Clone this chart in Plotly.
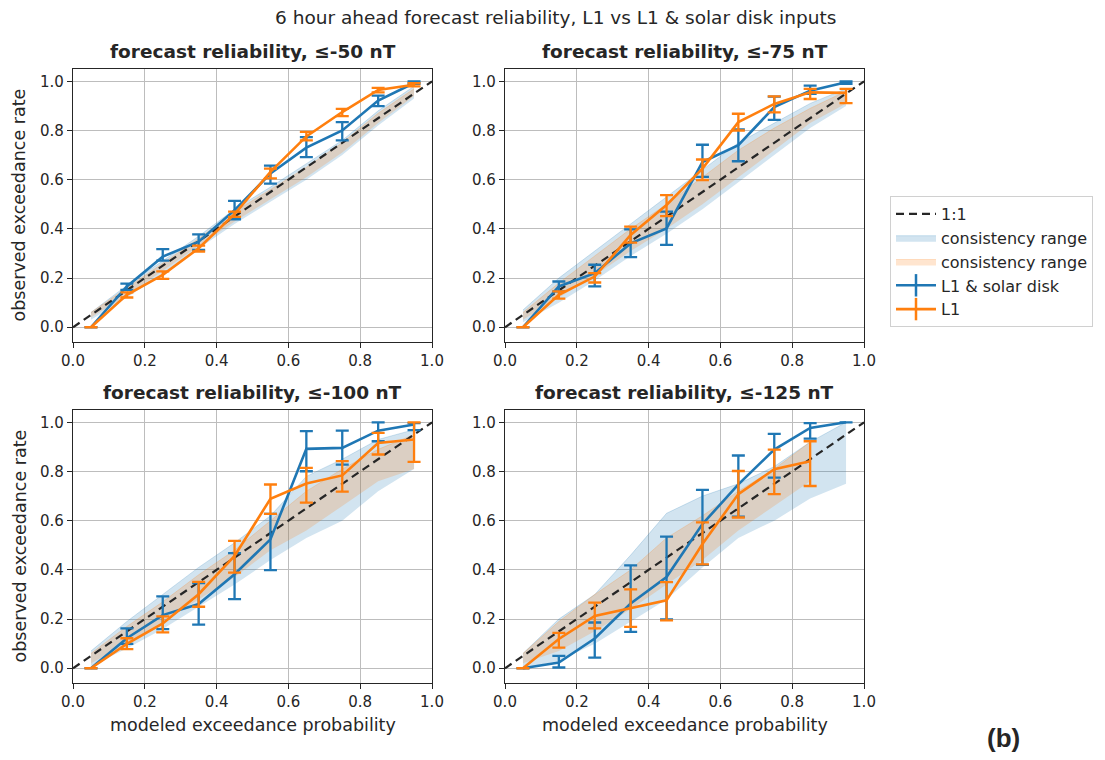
import plotly.graph_objects as go

# ---------------- data ----------------
bins = [0.05, 0.15, 0.25, 0.35, 0.45, 0.55, 0.65, 0.75, 0.85, 0.95]
titles = ["forecast reliability, ≤-50 nT", "forecast reliability, ≤-75 nT",
          "forecast reliability, ≤-100 nT", "forecast reliability, ≤-125 nT"]

# L1 & solar disk (blue)
sd_y1 = [0.0, 0.166, 0.287, 0.348, 0.476, 0.625, 0.730, 0.800, 0.922, 0.993]
sd_hi1 = [0.0, 0.177, 0.318, 0.378, 0.514, 0.657, 0.773, 0.834, 0.942, 1.0]
sd_lo1 = [0.0, 0.152, 0.271, 0.314, 0.439, 0.584, 0.692, 0.760, 0.899, 0.99]
sd_y2 = [0.0, 0.166, 0.220, 0.341, 0.402, 0.672, 0.740, 0.895, 0.962, 0.996]
sd_hi2 = [0.0, 0.186, 0.254, 0.398, 0.470, 0.742, 0.804, 0.938, 0.982, 1.0]
sd_lo2 = [0.0, 0.146, 0.166, 0.285, 0.335, 0.611, 0.675, 0.843, 0.949, 0.99]
sd_y3 = [0.0, 0.122, 0.216, 0.261, 0.382, 0.524, 0.892, 0.896, 0.966, 0.991]
sd_hi3 = [0.0, 0.162, 0.292, 0.346, 0.468, 0.628, 0.964, 0.966, 1.0, 0.997]
sd_lo3 = [0.0, 0.099, 0.159, 0.177, 0.281, 0.399, 0.801, 0.828, 0.923, 0.968]
sd_y4 = [0.0, 0.023, 0.121, 0.263, 0.371, 0.586, 0.748, 0.889, 0.977, 1.0]
sd_hi4 = [0.0, 0.050, 0.186, 0.418, 0.535, 0.725, 0.865, 0.953, 0.997, 1.0]
sd_lo4 = [0.0, 0.003, 0.043, 0.148, 0.199, 0.420, 0.616, 0.775, 0.934, 1.0]

# L1 (orange)
l1_y1 = [0.0, 0.132, 0.213, 0.321, 0.460, 0.632, 0.776, 0.875, 0.965, 0.986]
l1_hi1 = [0.0, 0.142, 0.227, 0.332, 0.470, 0.645, 0.794, 0.888, 0.973, 0.992]
l1_lo1 = [0.0, 0.121, 0.197, 0.308, 0.449, 0.605, 0.760, 0.858, 0.955, 0.979]
l1_y2 = [0.0, 0.132, 0.206, 0.375, 0.497, 0.645, 0.834, 0.908, 0.955, 0.953]
l1_hi2 = [0.0, 0.146, 0.220, 0.409, 0.537, 0.682, 0.868, 0.939, 0.969, 0.969]
l1_lo2 = [0.0, 0.116, 0.182, 0.344, 0.452, 0.598, 0.800, 0.874, 0.928, 0.911]
l1_y3 = [0.0, 0.099, 0.182, 0.301, 0.457, 0.689, 0.751, 0.784, 0.916, 0.930]
l1_hi3 = [0.0, 0.122, 0.211, 0.351, 0.518, 0.747, 0.815, 0.842, 0.957, 1.0]
l1_lo3 = [0.0, 0.078, 0.146, 0.250, 0.389, 0.628, 0.673, 0.718, 0.869, 0.839]
l1_y4 = [0.0, 0.119, 0.213, 0.245, 0.276, 0.505, 0.708, 0.809, 0.842]
l1_hi4 = [0.0, 0.144, 0.267, 0.321, 0.350, 0.593, 0.802, 0.889, 0.923]
l1_lo4 = [0.0, 0.084, 0.162, 0.168, 0.195, 0.422, 0.613, 0.708, 0.741]

# consistency ranges
sdb_lo1 = [0.03, 0.12, 0.22, 0.32, 0.42, 0.51, 0.60, 0.70, 0.82, 0.93]
sdb_hi1 = [0.06, 0.17, 0.27, 0.37, 0.48, 0.57, 0.665, 0.76, 0.88, 0.98]
l1b_lo1 = [0.04, 0.13, 0.23, 0.33, 0.43, 0.52, 0.61, 0.71, 0.83, 0.94]
l1b_hi1 = [0.06, 0.16, 0.26, 0.36, 0.47, 0.56, 0.65, 0.75, 0.87, 0.97]
sdb_lo2 = [0.02, 0.10, 0.19, 0.29, 0.38, 0.48, 0.59, 0.70, 0.81, 0.90]
sdb_hi2 = [0.07, 0.20, 0.31, 0.42, 0.53, 0.64, 0.75, 0.83, 0.91, 0.97]
l1b_lo2 = [0.03, 0.12, 0.21, 0.31, 0.40, 0.50, 0.61, 0.72, 0.83, 0.91]
l1b_hi2 = [0.06, 0.18, 0.29, 0.40, 0.50, 0.61, 0.72, 0.81, 0.89, 0.96]
sdb_lo3 = [0.01, 0.08, 0.16, 0.25, 0.34, 0.44, 0.53, 0.60, 0.72, 0.81]
sdb_hi3 = [0.07, 0.19, 0.30, 0.41, 0.51, 0.62, 0.78, 0.85, 0.93, 0.97]
l1b_lo3 = [0.02, 0.10, 0.19, 0.28, 0.37, 0.48, 0.56, 0.66, 0.76, 0.81]
l1b_hi3 = [0.06, 0.17, 0.27, 0.38, 0.48, 0.60, 0.72, 0.81, 0.89, 0.95]
sdb_lo4 = [0.00, 0.03, 0.10, 0.19, 0.28, 0.41, 0.53, 0.60, 0.69, 0.75]
sdb_hi4 = [0.06, 0.20, 0.30, 0.46, 0.63, 0.70, 0.75, 0.82, 0.92, 1.00]
l1b_lo4 = [0.02, 0.07, 0.15, 0.24, 0.34, 0.44, 0.56, 0.66, 0.76]
l1b_hi4 = [0.06, 0.19, 0.30, 0.40, 0.53, 0.62, 0.72, 0.81, 0.92]

ticks = [0.0, 0.2, 0.4, 0.6, 0.8, 1.0]
tick_text = ["0.0", "0.2", "0.4", "0.6", "0.8", "1.0"]

# ---------------- figure ----------------
W, H = 1105, 760
BLUE = "#1f77b4"
ORANGE = "#ff7f0e"
DARK = "#262626"
FONT = "DejaVu Sans"

panels = [
    (sd_y1, sd_hi1, sd_lo1, l1_y1, l1_hi1, l1_lo1, sdb_lo1, sdb_hi1, l1b_lo1, l1b_hi1),
    (sd_y2, sd_hi2, sd_lo2, l1_y2, l1_hi2, l1_lo2, sdb_lo2, sdb_hi2, l1b_lo2, l1b_hi2),
    (sd_y3, sd_hi3, sd_lo3, l1_y3, l1_hi3, l1_lo3, sdb_lo3, sdb_hi3, l1b_lo3, l1b_hi3),
    (sd_y4, sd_hi4, sd_lo4, l1_y4, l1_hi4, l1_lo4, sdb_lo4, sdb_hi4, l1b_lo4, l1b_hi4),
]

# pixel boxes of axes (left, right, top, bottom)
boxes = [(73, 432, 69, 342), (505, 864, 69, 342),
         (73, 432, 410, 683), (505, 864, 410, 683)]

fig = go.Figure()
layout = dict(
    width=W, height=H, margin=dict(l=0, r=0, t=0, b=0, autoexpand=False),
    paper_bgcolor="white", plot_bgcolor="white",
    font=dict(family=FONT, size=15, color=DARK),
    showlegend=True,
)

annotations = []
for i, (p, box) in enumerate(zip(panels, boxes)):
    sy, shi, slo, ly, lhi, llo, sblo, sbhi, lblo, lbhi = p
    k = "" if i == 0 else str(i + 1)
    xa, ya = "x" + k, "y" + k
    nb = len(sblo)
    nl = len(lblo)
    # blue band
    fig.add_trace(go.Scatter(x=bins[:nb], y=sblo, xaxis=xa, yaxis=ya, mode="lines",
                             line=dict(width=0, color=BLUE), showlegend=False, hoverinfo="skip"))
    fig.add_trace(go.Scatter(x=bins[:nb], y=sbhi, xaxis=xa, yaxis=ya, mode="lines",
                             line=dict(width=0.8, color="rgba(31,119,180,0.25)"), fill="tonexty",
                             fillcolor="rgba(31,119,180,0.2)", name="consistency range",
                             showlegend=(i == 0), legendrank=2))
    # orange band
    fig.add_trace(go.Scatter(x=bins[:nl], y=lblo, xaxis=xa, yaxis=ya, mode="lines",
                             line=dict(width=0, color=ORANGE), showlegend=False, hoverinfo="skip"))
    fig.add_trace(go.Scatter(x=bins[:nl], y=lbhi, xaxis=xa, yaxis=ya, mode="lines",
                             line=dict(width=0.8, color="rgba(255,127,14,0.25)"), fill="tonexty",
                             fillcolor="rgba(255,127,14,0.2)", name="consistency range",
                             showlegend=(i == 0), legendrank=3))
    # 1:1 line
    fig.add_trace(go.Scatter(x=[0, 1], y=[0, 1], xaxis=xa, yaxis=ya, mode="lines",
                             line=dict(color=DARK, width=2.2, dash="8px,5px"), name="1:1",
                             showlegend=(i == 0), legendrank=1))
    # blue errorbar line
    n = len(sy)
    fig.add_trace(go.Scatter(x=bins[:n], y=sy, xaxis=xa, yaxis=ya, mode="lines",
                             line=dict(color=BLUE, width=2.6),
                             error_y=dict(type="data", symmetric=False,
                                          array=[h - v for h, v in zip(shi, sy)],
                                          arrayminus=[v - l for v, l in zip(sy, slo)],
                                          color=BLUE, thickness=2.3, width=6.5),
                             name="L1 & solar disk", showlegend=False))
    n = len(ly)
    fig.add_trace(go.Scatter(x=bins[:n], y=ly, xaxis=xa, yaxis=ya, mode="lines",
                             line=dict(color=ORANGE, width=2.6),
                             error_y=dict(type="data", symmetric=False,
                                          array=[h - v for h, v in zip(lhi, ly)],
                                          arrayminus=[v - l for v, l in zip(ly, llo)],
                                          color=ORANGE, thickness=2.3, width=6.5),
                             name="L1", showlegend=False))

    l, r, t, b = box
    axcommon = dict(showgrid=True, gridcolor="#bdbdbd", gridwidth=1.2, zeroline=False,
                    showline=True, linecolor=DARK, linewidth=1.2, mirror=True,
                    ticks="outside", ticklen=5, tickwidth=1.2, tickcolor=DARK,
                    tickvals=ticks, ticktext=tick_text, automargin=False,
                    tickfont=dict(family=FONT, size=15, color=DARK))
    layout["xaxis" + k] = dict(axcommon, domain=[l / W, r / W], range=[0, 1],
                               anchor=ya)
    layout["yaxis" + k] = dict(axcommon, domain=[1 - b / H, 1 - t / H], range=[-0.06, 1.05],
                               anchor=xa)
    annotations.append(dict(text="<b>" + titles[i] + "</b>", x=(l + r) / 2 / W, y=1 - (t - 5) / H,
                            xref="paper", yref="paper", xanchor="center", yanchor="bottom",
                            showarrow=False, font=dict(family=FONT, size=18.5, color=DARK)))
    if i >= 2:
        annotations.append(dict(text="modeled exceedance probability", x=(l + r) / 2 / W,
                                y=1 - 737 / H, xref="paper", yref="paper", xanchor="center",
                                yanchor="bottom", showarrow=False,
                                font=dict(family=FONT, size=17.5, color=DARK)))
    if i % 2 == 0:
        annotations.append(dict(text="observed exceedance rate", x=7 / W, y=1 - (t + b) / 2 / H,
                                xref="paper", yref="paper", xanchor="left", yanchor="middle",
                                textangle=-90, showarrow=False,
                                font=dict(family=FONT, size=17.5, color=DARK)))

# legend-only entries for error-bar series (line with vertical bar)
fig.add_trace(go.Scatter(x=[None], y=[None], mode="lines+markers", name="L1 & solar disk",
                         line=dict(color=BLUE, width=2.6),
                         marker=dict(symbol="line-ns-open", size=16, line=dict(color=BLUE, width=2.5)),
                         legendrank=4))
fig.add_trace(go.Scatter(x=[None], y=[None], mode="lines+markers", name="L1",
                         line=dict(color=ORANGE, width=2.6),
                         marker=dict(symbol="line-ns-open", size=16, line=dict(color=ORANGE, width=2.5)),
                         legendrank=5))

annotations.append(dict(text="6 hour ahead forecast reliability, L1 vs L1 & solar disk inputs",
                        x=555 / W, y=1 - 30 / H, xref="paper", yref="paper", xanchor="center",
                        yanchor="bottom", showarrow=False,
                        font=dict(family=FONT, size=18.5, color=DARK)))
annotations.append(dict(text="<b>(b)</b>", x=1003 / W, y=1 - 738 / H, xref="paper", yref="paper",
                        xanchor="center", yanchor="middle", showarrow=False,
                        font=dict(family="Liberation Sans", size=26, color=DARK)))

layout["annotations"] = annotations
layout["legend"] = dict(x=890 / W, y=1 - 196 / H, xanchor="left", yanchor="top",
                        bgcolor="white", bordercolor="#d0d0d0", borderwidth=1,
                        font=dict(family=FONT, size=16, color=DARK),
                        traceorder="normal", itemwidth=40, tracegroupgap=0)
fig.update_layout(**layout)
fig.write_html("out.html", config={"displayModeBar": False},
               post_script="document.body.style.margin='0px';document.body.style.padding='0px';")
